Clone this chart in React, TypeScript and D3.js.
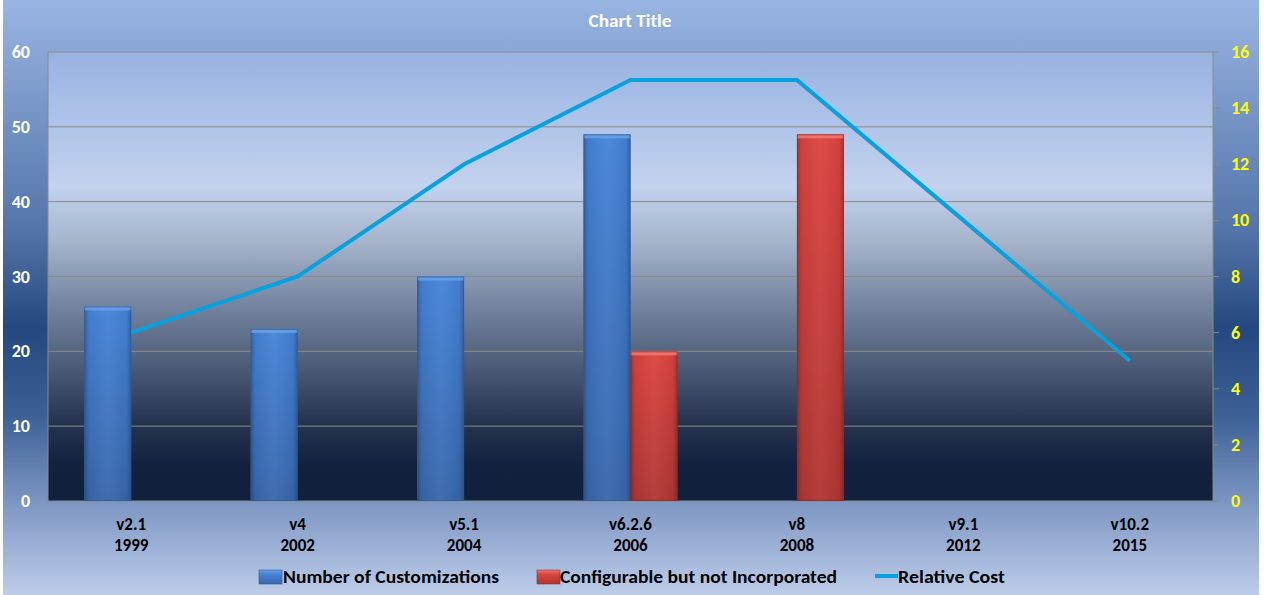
import React from "react";
import * as d3 from "d3";

const versions = ["v2.1", "v4", "v5.1", "v6.2.6", "v8", "v9.1", "v10.2"];
const years = ["1999", "2002", "2004", "2006", "2008", "2012", "2015"];
const customizations = [26, 23, 30, 49, 0, 0, 0];
const configurable = [0, 0, 0, 20, 49, 0, 0];
const relativeCost = [6, 8, 12, 15, 15, 10, 5];
const leftTicks = [0, 10, 20, 30, 40, 50, 60];
const rightTicks = [0, 2, 4, 6, 8, 10, 12, 14, 16];

const W = 1268;
const H = 595;
const FONT = "Carlito, Calibri, Lato, 'Open Sans', sans-serif";

export default function App() {
  const left = 48, right = 1213, top = 52, bottom = 501;
  const x = d3.scaleBand<number>().domain(d3.range(versions.length)).range([left, right]);
  const yL = d3.scaleLinear().domain([0, 60]).range([bottom, top]);
  const yR = d3.scaleLinear().domain([0, 16]).range([bottom, top]);
  const barW = 47;
  const cx = (i: number) => (x(i) as number) + x.bandwidth() / 2;
  const line = d3
    .line<number>()
    .x((_, i) => cx(i))
    .y((d) => yR(d));

  const bar = (i: number, v: number, series: 0 | 1) => {
    if (!v) return null;
    const x0 = series === 0 ? cx(i) - barW : cx(i);
    const y0 = yL(v);
    const h = bottom - y0;
    const main = series === 0 ? "url(#blueV)" : "url(#redV)";
    const edge = series === 0 ? "#2d5a98" : "#8f2a2a";
    const topC = series === 0 ? "#6aa0e8" : "#f07a76";
    return (
      <g key={`${series}-${i}`}>
        <rect x={x0} y={y0} width={barW} height={h} fill={main} />
        <rect x={x0} y={y0} width={barW} height={h} fill="url(#edgeH)" />
        <rect x={x0} y={y0} width={barW} height={4} fill={topC} opacity={0.85} />
        <rect x={x0 + 0.5} y={y0 + 0.5} width={barW - 1} height={h - 1} fill="none" stroke={edge} strokeWidth={1} opacity={0.7} />
      </g>
    );
  };

  return (
    <svg width={W} height={H} style={{ display: "block", position: "absolute", left: 0, top: 0 }} fontFamily={FONT}>
      <defs>
        <linearGradient id="outerBg" x1="0" y1="0" x2="0" y2="1">
          <stop offset="0" stopColor="#99b5e3" />
          <stop offset="0.08" stopColor="#8ba7d7" />
          <stop offset="0.22" stopColor="#7190c2" />
          <stop offset="0.38" stopColor="#5576aa" />
          <stop offset="0.55" stopColor="#24487f" />
          <stop offset="0.7" stopColor="#3d6196" />
          <stop offset="0.85" stopColor="#7f98c4" />
          <stop offset="1" stopColor="#bdcde9" />
        </linearGradient>
        <linearGradient id="plotBg" x1="0" y1="0" x2="0" y2="1">
          <stop offset="0" stopColor="#98b3e2" />
          <stop offset="0.3" stopColor="#c3d2ed" />
          <stop offset="0.42" stopColor="#a6b4cc" />
          <stop offset="0.55" stopColor="#7a89a3" />
          <stop offset="0.7" stopColor="#4c5b76" />
          <stop offset="0.82" stopColor="#273550" />
          <stop offset="0.92" stopColor="#12223e" />
          <stop offset="1" stopColor="#10213d" />
        </linearGradient>
        <linearGradient id="blueV" x1="0" y1="0" x2="0" y2="1">
          <stop offset="0" stopColor="#4584d8" />
          <stop offset="1" stopColor="#3867ac" />
        </linearGradient>
        <linearGradient id="redV" x1="0" y1="0" x2="0" y2="1">
          <stop offset="0" stopColor="#dc4440" />
          <stop offset="1" stopColor="#b03633" />
        </linearGradient>
        <linearGradient id="edgeH" x1="0" y1="0" x2="1" y2="0">
          <stop offset="0" stopColor="#000" stopOpacity="0.25" />
          <stop offset="0.1" stopColor="#000" stopOpacity="0.05" />
          <stop offset="0.5" stopColor="#fff" stopOpacity="0.04" />
          <stop offset="0.9" stopColor="#000" stopOpacity="0.05" />
          <stop offset="1" stopColor="#000" stopOpacity="0.25" />
        </linearGradient>
        <linearGradient id="legBlue" x1="0" y1="0" x2="0" y2="1">
          <stop offset="0" stopColor="#6aa0e8" />
          <stop offset="0.3" stopColor="#4584d8" />
          <stop offset="1" stopColor="#3867ac" />
        </linearGradient>
        <linearGradient id="legRed" x1="0" y1="0" x2="0" y2="1">
          <stop offset="0" stopColor="#f07a76" />
          <stop offset="0.3" stopColor="#dc4440" />
          <stop offset="1" stopColor="#b03633" />
        </linearGradient>
      </defs>

      <rect x={3} y={0} width={1256} height={H} fill="url(#outerBg)" />
      <rect x={left} y={top} width={right - left} height={bottom - top} fill="url(#plotBg)" />

      {leftTicks.map((t) => (
        <line key={t} x1={left} x2={right} y1={yL(t)} y2={yL(t)} stroke="#8a8a8a" strokeWidth={1} />
      ))}
      <line x1={left} x2={left} y1={top} y2={bottom} stroke="#8a8a8a" />
      <line x1={right} x2={right} y1={top} y2={bottom} stroke="#8a8a8a" />
      {rightTicks.map((t) => (
        <line key={t} x1={right} x2={right + 6} y1={yR(t)} y2={yR(t)} stroke="#8a8a8a" />
      ))}

      {customizations.map((v, i) => bar(i, v, 0))}
      {configurable.map((v, i) => bar(i, v, 1))}

      <path d={line(relativeCost) || ""} fill="none" stroke="#04a2de" strokeWidth={4} strokeLinejoin="miter" />

      <text x={630} y={27} textAnchor="middle" fill="#ffffff" fontWeight="bold" fontSize={18} textLength={83} lengthAdjust="spacingAndGlyphs">
        Chart Title
      </text>

      {leftTicks.map((t) => (
        <text key={t} x={30} y={yL(t) + 6} textAnchor="end" fill="#ffffff" fontWeight="bold" fontSize={18}>
          {t}
        </text>
      ))}
      {rightTicks.map((t) => (
        <text key={t} x={1231} y={yR(t) + 6} textAnchor="start" fill="#ffff00" fontWeight="bold" fontSize={18}>
          {t}
        </text>
      ))}

      {versions.map((v, i) => (
        <g key={v}>
          <text x={cx(i)} y={530} textAnchor="middle" fill="#000" fontWeight="bold" fontSize={17}>
            {v}
          </text>
          <text x={cx(i)} y={551} textAnchor="middle" fill="#000" fontWeight="bold" fontSize={17}>
            {years[i]}
          </text>
        </g>
      ))}

      <g fontWeight="bold" fontSize={18} fill="#000">
        <rect x={259} y={570} width={23} height={14} fill="url(#legBlue)" stroke="#2d5a98" strokeWidth={0.6} />
        <text x={283} y={583} textLength={216} lengthAdjust="spacingAndGlyphs">Number of Customizations</text>
        <rect x={537} y={570} width={23} height={14} fill="url(#legRed)" stroke="#8f2a2a" strokeWidth={0.6} />
        <text x={560} y={583} textLength={277} lengthAdjust="spacingAndGlyphs">Configurable but not Incorporated</text>
        <line x1={875} x2={898} y1={576} y2={576} stroke="#04a2de" strokeWidth={4} />
        <text x={898} y={583} textLength={107} lengthAdjust="spacingAndGlyphs">Relative Cost</text>
      </g>
    </svg>
  );
}
